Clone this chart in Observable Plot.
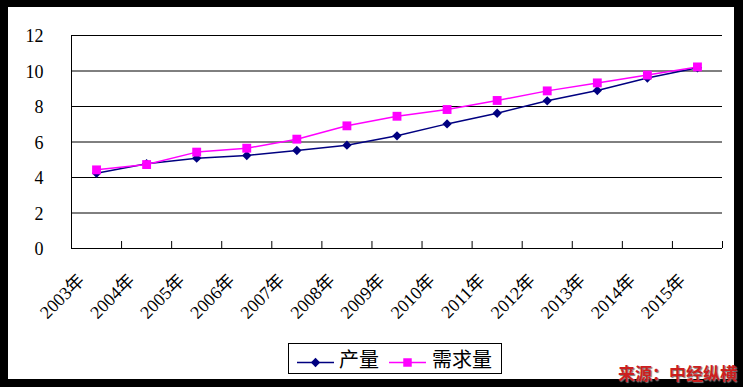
<!DOCTYPE html>
<html>
<head>
<meta charset="utf-8">
<script src="https://cdn.jsdelivr.net/npm/d3@7"></script>
<script src="https://cdn.jsdelivr.net/npm/@observablehq/plot@0.6"></script>
<style>
  html, body { margin: 0; padding: 0; background: #fff; }
  #frame { position: relative; width: 743px; height: 387px; background: #000; overflow: hidden; }
  #inner { position: absolute; left: 8px; top: 7px; width: 726px; height: 372px; background: #fff; }
  #chart { position: absolute; left: 0; top: 0; }
  #legend { position: absolute; left: 288px; top: 343px; width: 212px; height: 29px; border: 1px solid #000; background: #fff;
            font-family: "Noto Sans CJK SC", sans-serif; font-size: 20px; color: #000; }
  #legend svg { position: absolute; top: 0; }
  #legend span { position: absolute; top: 0; }
  #source { position: absolute; left: 618px; top: 363px; font-family: "Noto Sans CJK SC", sans-serif; font-weight: bold;
            font-size: 17px; line-height: 20px; color: #cc1f1f; text-shadow: 1px 1px 1px #777; white-space: nowrap; z-index: 5; }
</style>
</head>
<body>
<div id="frame">
  <div id="inner"></div>
  <div id="chart"></div>
  <div id="legend"></div>
  <div id="source">来源：中经纵横</div>
</div>
<script>
const years = [2003, 2004, 2005, 2006, 2007, 2008, 2009, 2010, 2011, 2012, 2013, 2014, 2015];
const yearLabels = ["2003年", "2004年", "2005年", "2006年", "2007年", "2008年", "2009年", "2010年", "2011年", "2012年", "2013年", "2014年", "2015年"];
const production = [4.24, 4.78, 5.09, 5.24, 5.52, 5.82, 6.35, 7.02, 7.62, 8.32, 8.90, 9.60, 10.18];
const demand = [4.43, 4.73, 5.43, 5.65, 6.16, 6.91, 7.45, 7.83, 8.34, 8.88, 9.33, 9.77, 10.23];
const yTicks = [0, 2, 4, 6, 8, 10, 12];
const seriesNames = ["产量", "需求量"];
const seriesColors = ["#000080", "#FF00FF"];

const prodData = years.map((y, i) => ({year: y, value: production[i]}));
const demData = years.map((y, i) => ({year: y, value: demand[i]}));
const labelData = years.map((y, i) => ({year: y, label: yearLabels[i]}));
const boundaries = years.map(y => y - 0.5).concat([years[years.length - 1] + 0.5]);

const serif = "'Liberation Serif', 'Times New Roman', 'Noto Sans CJK SC', serif";

const chart = Plot.plot({
  width: 743,
  height: 340,
  marginLeft: 71,
  marginRight: 21,
  marginTop: 35,
  marginBottom: 92,
  style: {background: "transparent", fontFamily: serif, fontSize: "18px", color: "#000"},
  x: {type: "linear", domain: [years[0] - 0.5, years[years.length - 1] + 0.5], axis: null},
  y: {domain: [0, 12], axis: null},
  marks: [
    Plot.ruleY(yTicks, {y: d => d, stroke: "#000", strokeWidth: 1}),
    Plot.ruleX([boundaries[0]], {x: d => d, y1: 0, y2: 12, stroke: "#000", strokeWidth: 1}),
    Plot.ruleX(boundaries, {x: d => d, y1: 0, y2: 0, insetTop: -7, stroke: "#000", strokeWidth: 1}),
    Plot.text(yTicks, {y: d => d, frameAnchor: "left", dx: -28, dy: 1, text: d => String(d), textAnchor: "end",
      fontSize: 18, fontFamily: serif, fill: "#000"}),
    Plot.text(labelData, {x: "year", frameAnchor: "bottom", dx: -11, dy: 33, text: "label", rotate: -45,
      textAnchor: "end", lineAnchor: "bottom", fontSize: 18, fontFamily: serif, fill: "#000"}),
    Plot.line(prodData, {x: "year", y: "value", stroke: seriesColors[0], strokeWidth: 1.5}),
    Plot.dot(prodData, {x: "year", y: "value", symbol: "diamond2", r: 4.2, fill: seriesColors[0], stroke: "none"}),
    Plot.line(demData, {x: "year", y: "value", stroke: seriesColors[1], strokeWidth: 1.5}),
    Plot.dot(demData, {x: "year", y: "value", symbol: "square", r: 5, fill: seriesColors[1], stroke: "none"})
  ]
});
document.getElementById("chart").appendChild(chart);

// Legend
const legend = document.getElementById("legend");
const items = [
  {left: 8, textLeft: 50, symbol: "diamond"},
  {left: 100, textLeft: 143, symbol: "square"}
];
items.forEach((it, i) => {
  const ns = "http://www.w3.org/2000/svg";
  const svg = document.createElementNS(ns, "svg");
  svg.setAttribute("width", 38);
  svg.setAttribute("height", 29);
  svg.style.left = it.left + "px";
  const line = document.createElementNS(ns, "line");
  line.setAttribute("x1", 0); line.setAttribute("x2", 37);
  line.setAttribute("y1", 18.5); line.setAttribute("y2", 18.5);
  line.setAttribute("stroke", seriesColors[i]); line.setAttribute("stroke-width", 1.5);
  svg.appendChild(line);
  const path = document.createElementNS(ns, "path");
  const sym = it.symbol === "diamond" ? d3.symbol(d3.symbolDiamond2, 55) : d3.symbol(d3.symbolSquare, 72);
  path.setAttribute("d", sym());
  path.setAttribute("transform", "translate(18.5,18.5)");
  path.setAttribute("fill", seriesColors[i]);
  svg.appendChild(path);
  legend.appendChild(svg);
  const span = document.createElement("span");
  span.textContent = seriesNames[i];
  span.style.left = it.textLeft + "px";
  span.style.lineHeight = "29px";
  legend.appendChild(span);
});
</script>
</body>
</html>
